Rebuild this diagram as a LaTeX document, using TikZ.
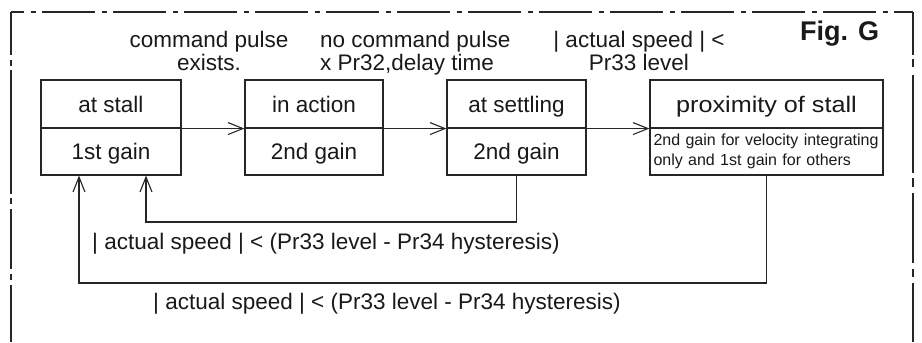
\documentclass[tikz,border=0pt]{standalone}
\usepackage{fontspec}
\setmainfont{Liberation Sans}
\usetikzlibrary{arrows.meta}
\begin{document}
\begin{tikzpicture}[x=1bp,y=-1bp,
  ink/.style={draw=black!85, line width=1.1bp},
  half/.style={ink, rectangle, inner sep=0pt, text height=16bp, text depth=0pt,
    font=\fontsize{22.5bp}{22.5bp}\selectfont, text=black!90},
  lbl/.style={inner sep=0pt, font=\fontsize{22.5bp}{22.5bp}\selectfont, text=black!90},
  conn/.style={ink, -{Straight Barb[length=15bp,width=12bp]}}
]
\useasboundingbox (0,0) rectangle (922,342);
% frame
\draw[ink, dash pattern=on 53bp off 6.5bp on 5bp off 6.5bp, dash phase=40bp] (11,12) -- (913,12);
\draw[ink, dash pattern=on 43bp off 5bp on 6bp off 4bp on 124bp off 4bp on 6bp off 5bp on 60bp off 5bp on 6bp off 5bp on 80bp off 5bp] (11,12) -- (11,342);
\draw[ink, dash pattern=on 43bp off 4bp on 8bp off 8bp on 98bp off 5bp on 9bp off 6bp on 70bp off 6bp on 8bp off 6bp on 80bp off 5bp] (913,12) -- (913,342);
% boxes
\node[half, minimum width=140bp, minimum height=48bp] (a1) at (111,104) {at stall};
\node[half, minimum width=140bp, minimum height=47bp] (a2) at (111,151.5) {1st gain};
\node[half, minimum width=138bp, minimum height=48bp] (b1) at (314,104) {in action};
\node[half, minimum width=138bp, minimum height=47bp] (b2) at (314,151.5) {2nd gain};
\node[half, minimum width=139bp, minimum height=48bp] (c1) at (516.5,104) {at settling};
\node[half, minimum width=139bp, minimum height=47bp] (c2) at (516.5,151.5) {2nd gain};
\node[half, minimum width=233bp, minimum height=48bp] (d1) at (766.5,104) {\scalebox{1.12}[1]{proximity of stall}};
\node[ink, minimum width=233bp, minimum height=47bp, inner xsep=3.5bp, inner ysep=0pt, text width=226bp, align=left,
  font=\fontsize{16bp}{20bp}\selectfont, text=black!90] (d2) at (766.5,151.5)
  {\mbox{2nd gain for velocity integrating}\\\mbox{only and 1st gain for others}};
% forward arrows
\draw[conn] (a1.south east) -- (b1.south west);
\draw[conn] (b1.south east) -- (c1.south west);
\draw[conn] (c1.south east) -- (d1.south west);
% return paths
\coordinate (r1) at (146,222);
\coordinate (r2) at (79,283);
\draw[conn] (c2.south) |- (r1) -- (r1 |- a2.south);
\draw[conn] (d2.south) |- (r2) -- (r2 |- a2.south);
% labels
\node[lbl, anchor=base] (t1) at (209,47) {\begin{tabular}[t]{@{}c@{}}command pulse\\exists.\end{tabular}};
\node[lbl, anchor=base west] (t2) at (320,47) {\begin{tabular}[t]{@{}l@{}}no command pulse\\x Pr32,delay time\end{tabular}};
\node[lbl, anchor=base] (t3) at (639,47) {\begin{tabular}[t]{@{}c@{}}| actual speed | <\\Pr33 level\end{tabular}};
\node[lbl, anchor=base, font=\bfseries\fontsize{27bp}{27bp}\selectfont] (fig) at (839.5,40) {Fig. G};
\node[lbl, anchor=base west] (h1) at (92,249) {| actual speed | < (Pr33 level - Pr34 hysteresis)};
\node[lbl, anchor=base west] (h2) at (153,309) {| actual speed | < (Pr33 level - Pr34 hysteresis)};
\end{tikzpicture}
\end{document}
